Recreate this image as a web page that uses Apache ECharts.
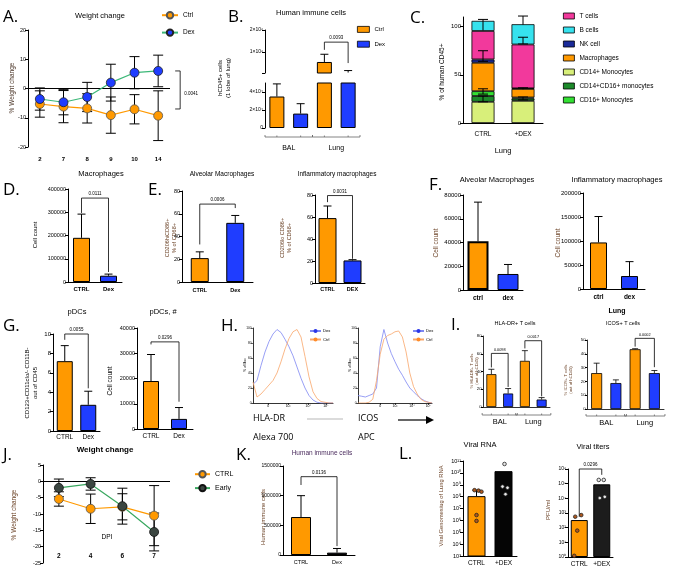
<!DOCTYPE html>
<html><head><meta charset="utf-8">
<script src="https://cdn.jsdelivr.net/npm/echarts@6.0.0/dist/echarts.min.js"></script>
<style>html,body{margin:0;padding:0;background:#fff}#c{width:679px;height:572px}</style>
</head><body><div id="c"></div><script>
// ================= DATA =================
// A. Weight change
const A_days = ['2','7','8','9','10','14'];
const A_ctrl = [-5.3,-6.2,-6.8,-9.1,-7.1,-9.3];
const A_ctrlErr = [4.5,5.5,5.0,6.2,5.0,8.5];
const A_dex = [-3.6,-4.7,-2.9,2.0,5.4,6.0];
const A_dexErr = [3.8,4.3,5.0,6.3,5.5,5.4];
const A_sig = [[5,6.0,-7.0,'0.0041']];
// B. Human immune cells (broken axis at 5×10⁴)
const B_cats = ['BAL Ctrl','BAL Dex','Lung Ctrl','Lung Dex'];
const B_ctrl = [35000,'-',550000,'-'];
const B_ctrlHi = [49000,null,900000,null];
const B_dex = ['-',16000,'-',70000];
const B_dexHi = [null,27000,null,160000];
const B_break = 50000;
const B_groups = [[0,1,'BAL'],[2,3,'Lung']];
const B_sig = [[2,3,1450000,1100000,500000,'0.0093']];
const B_topTicks = [1000000,2000000];
const B_topTickMarks = [50000,1000000,2000000];
const B_topLabels = ['1×10⁶','2×10⁶'];
const B_botTicks = [0,20000,40000];
const B_botLabels = ['0','2×10⁴','4×10⁴'];
// C. % of human CD45+ (stack bottom -> top)
const C_groups = ['CTRL','+DEX'];
const C_cd14 = [22,23];
const C_cd1416 = [6,2.3];
const C_cd16 = [5,1.2];
const C_mac = [29.5,8.9];
const C_nk = [3.5,0.6];
const C_t = [29.5,45.5];
const C_b = [10.5,21];
const C_err = [[0,96,107.5,0],[0,64,75,1],[0,30,35.5,1],[0,22,28,1],[1,102,111,0],[1,82,89,1],[1,35,36.5,0],[1,24,27,1]];
// D. Macrophages
const D_cats = ['CTRL','Dex'];
const D_vals = [190000,27000];
const D_hi = [292000,34000];
const D_sig = [[0,1,361000,297000,43000,'0.0111']];
// E. Alveolar / Inflammatory macrophages (%)
const E1_cats = ['CTRL','Dex'];
const E1_vals = [21,52];
const E1_hi = [26.5,58.5];
const E1_sig = [[0,1,68.5,33,65,'0.0006']];
const E2_cats = ['CTRL','DEX'];
const E2_vals = [59,20.5];
const E2_hi = [70,21.2];
const E2_sig = [[0,1,79.5,73.5,22,'0.0031']];
// F. cell counts
const F1_cats = ['ctrl','dex'];
const F1_vals = [41000,13500];
const F1_hi = [74000,21500];
const F2_cats = ['ctrl','dex'];
const F2_vals = [97000,27000];
const F2_hi = [151000,57000];
// G. pDCs
const G1_cats = ['CTRL','Dex'];
const G1_vals = [7.2,2.7];
const G1_hi = [8.8,4.1];
const G1_sig = [[0,1,10,9.4,4.4,'0.0055']];
const G2_cats = ['CTRL','Dex'];
const G2_vals = [19000,4000];
const G2_hi = [29500,8500];
const G2_sig = [[0,1,34500,33500,10800,'0.0296']];
// H. flow histograms (% of max per channel bin)
const H_bins = [0,5,10,15,20,25,30,35,40,45,50,55,60,65,70,75,80,85,90,95,100];
const H1_dex  = [25,30,50,68,82,92,98,94,85,75,63,48,33,20,10,4,1,0,0,0,0];
const H1_ctrl = [28,8,12,18,24,30,40,55,72,86,95,98,88,62,35,15,6,2,1,0,0];
const H2_dex  = [10,9,8,10,12,20,75,98,80,66,55,45,37,28,20,15,10,6,3,1,0];
const H2_ctrl = [0,0,0,1,5,30,65,85,90,92,95,96,88,68,40,22,12,5,2,1,0];
const H1_tickPos = [19,44,69,91];
const H1_tickLab = ['0','10³','10⁴','10⁵'];
const H2_tickPos = [30,50,73,95];
const H2_tickLab = ['0','10³','10⁴','10⁵'];
// I. T cells
const I_cats = ['BAL Ctrl','BAL Dex','Lung Ctrl','Lung Dex'];
const I_groups = [[0,1,'BAL'],[2,3,'Lung']];
const I1_ctrl = [37,'-',52,'-'];
const I1_ctrlHi = [42.5,null,63.5,null];
const I1_dex = ['-',15.2,'-',8.4];
const I1_dexHi = [null,20.8,null,10.6];
const I1_sig = [[0,1,60.4,44.6,22.6,'0.0098'],[2,3,74.7,66,12,'0.0017']];
const I2_ctrl = [26,'-',43.3,'-'];
const I2_ctrlHi = [33.2,null,43.7,null];
const I2_dex = ['-',18.8,'-',26];
const I2_dexHi = [null,21.1,null,27.9];
const I2_sig = [[2,3,51.2,45.2,30.3,'0.0002']];
// J. Weight change
const J_days = ['2','4','6','7'];
const J_ctrl = [-5.4,-8.4,-7.8,-10.5];
const J_ctrlErr = [2.2,4.5,4.0,9.2];
const J_early = [-2.0,-0.8,-7.6,-15.5];
const J_earlyErr = [2.7,1.9,5.5,5.8];
// K. Human immune cells
const K_cats = ['CTRL','Dex'];
const K_vals = [640000,40000];
const K_hi = [1000000,110000];
const K_sig = [[0,1,1320000,1180000,150000,'0.0136']];
// L. Viral RNA / titers
const L1_cats = ['CTRL','+DEX'];
const L1_vals = [1.1e8,1.4e10];
const L1_hi = [3.5e8,null];
const L1_ctrlPts = [3.5e8,3.2e8,2.6e8,2.8e6,9e5];
const L1_dexPts = [5.6e10,7e8,5.6e8,1.6e8];
const L2_cats = ['CTRL','+DEX'];
const L2_vals = [330,9e4];
const L2_ctrlPts = [560,720,63,1.2];
const L2_dexPts = [1.8e5,1.8e5,1.05e4,1.26e4];
const L2_sig = [[0,1,1e6,550,4e5,'0.0296']];

// ================= STYLE =================
const FONT = '"Liberation Sans", Arial, sans-serif';
const LFONT = '"Open Sans", "Noto Sans", sans-serif';
const OR = '#ff9900', BL = '#1f3dff', BR = '#6b4226';
const C_colors = ['#d8ef7a','#1c8a2a','#33e033','#ff9900','#1a2a99','#f2399c','#36e2ee'];
const C_names = ['CD14+ Monocytes','CD14+CD16+ monocytes','CD16+ Monocytes','Macrophages','NK cell','T cells','B cells'];
const C_series = [C_cd14,C_cd1416,C_cd16,C_mac,C_nk,C_t,C_b];
const L1_ctrlDx = [-2,2,5,0,0], L1_dexDx = [1,-1,4,2];
const L2_ctrlDx = [-4,2,-2,-5], L2_dexDx = [-3,2,-2,3];
const SUP = '⁰¹²³⁴⁵⁶⁷⁸⁹';
const sup = n => String(n).split('').map(d => SUP[+d]).join('');
const nm = n => n.split(':')[1];
const plain = v => String(v);
const isNum = v => typeof v === 'number';

function merge(a, b) {
  for (const k in b) {
    const bv = b[k];
    if (bv && typeof bv === 'object' && !Array.isArray(bv) && a[k] && typeof a[k] === 'object' && !Array.isArray(a[k])) merge(a[k], bv);
    else a[k] = bv;
  }
  return a;
}
const grids = [], xAxes = [], yAxes = [], series = [], legends = [], graphics = [];
function addGrid(l, t, w, h, xa, ya) {
  const gi = grids.length;
  grids.push({left:l, top:t, width:w, height:h});
  xAxes.push(Object.assign({gridIndex:gi}, xa));
  yAxes.push(Object.assign({gridIndex:gi}, ya));
  return gi;
}
function catAxis(cats, o) {
  return merge({type:'category', data:cats,
    axisLine:{show:true, onZero:false, lineStyle:{color:'#000', width:1}},
    axisTick:{show:false},
    axisLabel:{color:'#000', fontSize:6, margin:4, interval:0, fontFamily:FONT}}, o || {});
}
function valAxis(o) {
  return merge({type:'value', splitLine:{show:false},
    axisLine:{show:true, lineStyle:{color:'#000', width:1}},
    axisTick:{show:true, length:3, lineStyle:{color:'#000', width:1}},
    axisLabel:{color:'#000', fontSize:5.5, margin:2, fontFamily:FONT, formatter:plain}}, o || {});
}
function errSeries(gi, data, o) {
  o = o || {};
  const cap = o.cap || 4;
  series.push({type:'custom', xAxisIndex:gi, yAxisIndex:gi, clip:!!o.clip, silent:true, z:5,
    data: data,
    renderItem(params, api) {
      const x = api.value(0), lo = api.value(1), hi = api.value(2);
      const both = o.both || (data[params.dataIndex][3] === 1);
      const p1 = api.coord([x, lo]), p2 = api.coord([x, hi]);
      const cx = p1[0];
      const st = {stroke:'#000', lineWidth:o.lw || 1};
      const ch = [{type:'line', shape:{x1:cx, y1:p1[1], x2:cx, y2:p2[1]}, style:st},
                  {type:'line', shape:{x1:cx-cap, y1:p2[1], x2:cx+cap, y2:p2[1]}, style:st}];
      if (both) ch.push({type:'line', shape:{x1:cx-cap, y1:p1[1], x2:cx+cap, y2:p1[1]}, style:st});
      return {type:'group', children:ch};
    }});
}
function textEl(x, y, text, fs, al, va) {
  return {type:'text', x:x, y:y, style:{text:text, fontSize:fs, fontFamily:FONT, fill:'#000',
    align:al, textAlign:al, verticalAlign:va, textVerticalAlign:va}};
}
function bracketSeries(gi, arr, fs) {
  series.push({type:'custom', xAxisIndex:gi, yAxisIndex:gi, clip:false, silent:true, z:6,
    data: arr.map(a => a.slice(0,5)),
    renderItem(params, api) {
      const c1 = api.value(0), c2 = api.value(1), top = api.value(2);
      const a = api.coord([c1, top]), b = api.coord([c2, top]);
      const pl = api.coord([c1, api.value(3)]), pr = api.coord([c2, api.value(4)]);
      return {type:'group', children:[
        {type:'polyline', shape:{points:[pl, a, b, pr]}, style:{stroke:'#000', lineWidth:0.8, fill:null}},
        textEl((a[0]+b[0])/2, a[1]-1.5, arr[params.dataIndex][5], fs || 4.5, 'center', 'bottom')
      ]};
    }});
}
function groupSeries(gi, groups, ymin, dy, ly, fs, ext) {
  series.push({type:'custom', xAxisIndex:gi, yAxisIndex:gi, clip:false, silent:true,
    data: groups.map(g => [g[0], g[1], ymin]),
    renderItem(params, api) {
      const bw = api.size([1, 0])[0];
      const p1 = api.coord([api.value(0), api.value(2)]), p2 = api.coord([api.value(1), api.value(2)]);
      const y = p1[1] + dy, xl = p1[0] - bw*ext, xr = p2[0] + bw*ext;
      const st = {stroke:'#666', lineWidth:0.8};
      return {type:'group', children:[
        {type:'line', shape:{x1:xl, y1:y, x2:xr, y2:y}, style:st},
        {type:'line', shape:{x1:xl, y1:y, x2:xl, y2:y-2}, style:st},
        {type:'line', shape:{x1:xr, y1:y, x2:xr, y2:y-2}, style:st},
        {type:'line', shape:{x1:p1[0], y1:y, x2:p1[0], y2:y-1.5}, style:st},
        {type:'line', shape:{x1:p2[0], y1:y, x2:p2[0], y2:y-1.5}, style:st},
        textEl((xl+xr)/2, y+ly, groups[params.dataIndex][2], fs, 'center', 'middle')
      ]};
    }});
}
function pointSeries(gi, x, pts, dx, fill, r) {
  series.push({type:'custom', xAxisIndex:gi, yAxisIndex:gi, clip:false, silent:true, z:7,
    data: pts.map(v => [x, v]),
    renderItem(params, api) {
      const p = api.coord([api.value(0), api.value(1)]);
      return {type:'circle', shape:{cx:p[0] + dx[params.dataIndex], cy:p[1], r:r},
        style:{fill:fill, stroke:'#222', lineWidth:0.8}};
    }});
}
function barPanel(l, t, w, h, cats, vals, colors, hi, o) {
  const gi = addGrid(l, t, w, h, catAxis(cats, o.x), valAxis(o.y));
  series.push({type:'bar', xAxisIndex:gi, yAxisIndex:gi, barWidth:o.bw, z:2,
    data: vals.map((v, i) => ({value:v, itemStyle:{color:colors[i], borderColor:'#000', borderWidth:(o.bws ? o.bws[i] : 1)}}))});
  const ed = [];
  vals.forEach((v, i) => { if (hi[i] != null) ed.push([i, v, hi[i]]); });
  errSeries(gi, ed, {cap:o.cap || 4});
  if (o.sig) bracketSeries(gi, o.sig, o.sfs);
  return gi;
}
function T(x, y, text, fs, o) {
  o = o || {};
  const al = o.al || 'center';
  graphics.push({type:'text', x:x, y:y, rotation:o.rot || 0, silent:true,
    style:{text:text, fontSize:fs, fontFamily:o.ff || FONT, fontWeight:o.fw || 'normal', fill:o.c || '#000',
      align:al, textAlign:al, verticalAlign:'middle', textVerticalAlign:'middle'}});
}
const R = Math.PI / 2;

// ================= A =================
const gA = addGrid(28, 30, 142, 117,
  catAxis(A_days, {axisLine:{show:false}, axisLabel:{fontSize:6, fontWeight:'bold', margin:9}}),
  valAxis({min:-20, max:20, interval:10}));
errSeries(gA, A_ctrl.map((v, i) => [i, v - A_ctrlErr[i], v + A_ctrlErr[i]]), {cap:5, both:true});
errSeries(gA, A_dex.map((v, i) => [i, v - A_dexErr[i], v + A_dexErr[i]]), {cap:5, both:true});
series.push({type:'line', name:'A:Ctrl', xAxisIndex:gA, yAxisIndex:gA, data:A_ctrl, symbol:'circle', symbolSize:9, z:8,
  itemStyle:{color:OR, borderColor:'#555', borderWidth:0.8}, lineStyle:{color:OR, width:1.2},
  markLine:{silent:true, symbol:'none', label:{show:false}, lineStyle:{color:'#000', width:1, type:'solid'}, data:[{yAxis:0}]}});
series.push({type:'line', name:'A:Dex', xAxisIndex:gA, yAxisIndex:gA, data:A_dex, symbol:'circle', symbolSize:9, z:8,
  itemStyle:{color:BL, borderColor:'#222', borderWidth:0.8}, lineStyle:{color:'#3cb878', width:1.2}});
series.push({type:'custom', xAxisIndex:gA, yAxisIndex:gA, clip:false, silent:true, z:6,
  data: A_sig.map(s => s.slice(0,3)),
  renderItem(params, api) {
    const c = api.value(0), t = api.coord([c, api.value(1)]), b = api.coord([c, api.value(2)]);
    const x = t[0] + 22;
    return {type:'group', children:[
      {type:'polyline', shape:{points:[[x-5, t[1]], [x, t[1]], [x, b[1]], [x-5, b[1]]]}, style:{stroke:'#000', lineWidth:0.8, fill:null}},
      textEl(x + 4, (t[1] + b[1]) / 2 + 4, A_sig[params.dataIndex][3], 4.5, 'left', 'middle')
    ]};
  }});
legends.push({left:161, top:11, orient:'vertical', itemWidth:16, itemHeight:8, itemGap:9, data:['A:Ctrl','A:Dex'], formatter:nm,
  textStyle:{fontSize:6.5, color:'#000', fontFamily:FONT}, selectedMode:false, padding:0});

// ================= B =================
const bHidden = {show:true, axisLine:{show:false}, axisLabel:{show:false}, axisTick:{show:false}};
const gBt = addGrid(265, 30, 95, 43, catAxis(B_cats, bHidden),
  valAxis({min:B_break, max:2000000, axisLabel:{fontSize:5, customValues:B_topTicks, formatter:v => B_topLabels[B_topTicks.indexOf(v)]}, axisTick:{customValues:B_topTickMarks}}));
const gBb = addGrid(265, 83, 95, 45, catAxis(B_cats, bHidden),
  valAxis({min:0, max:B_break, axisLabel:{fontSize:5, customValues:B_botTicks, formatter:v => B_botLabels[B_botTicks.indexOf(v)]}, axisTick:{customValues:B_botTicks}}));
// top segment only shows values above the break
const aboveBreak = arr => arr.map(v => (isNum(v) && v > B_break) ? v : '-');
[[gBt, aboveBreak(B_ctrl), aboveBreak(B_dex), 'Bt'], [gBb, B_ctrl, B_dex, 'B']].forEach(cfg => {
  const g = cfg[0];
  series.push({type:'bar', name:cfg[3] + ':Ctrl', xAxisIndex:g, yAxisIndex:g, data:cfg[1], barWidth:15, barGap:'-100%', z:2,
    itemStyle:{color:OR, borderColor:'#000', borderWidth:1}});
  series.push({type:'bar', name:cfg[3] + ':Dex', xAxisIndex:g, yAxisIndex:g, data:cfg[2], barWidth:15, barGap:'-100%', z:2,
    itemStyle:{color:BL, borderColor:'#000', borderWidth:1}});
  const ed = [];
  cfg[1].forEach((v, i) => { if (isNum(v)) ed.push([i, v, B_ctrlHi[i]]); });
  cfg[2].forEach((v, i) => { if (isNum(v)) ed.push([i, v, B_dexHi[i]]); });
  errSeries(g, ed, {cap:4, clip:true});
});
bracketSeries(gBt, B_sig, 4.5);
groupSeries(gBb, B_groups, 0, 9, 11, 7, 0.5);
legends.push({left:357, top:26, orient:'vertical', itemWidth:12, itemHeight:6, itemGap:8, data:['B:Ctrl','B:Dex'], formatter:nm, icon:'rect',
  itemStyle:{borderColor:'#000', borderWidth:0.8}, textStyle:{fontSize:6, color:'#000', fontFamily:FONT}, selectedMode:false, padding:0});

// ================= C =================
const gC = addGrid(463, 17, 80, 106, catAxis(C_groups, {axisLabel:{fontSize:6.5, margin:8}}),
  valAxis({min:0, max:110, interval:50, axisLabel:{fontSize:6, showMaxLabel:false}}));
C_series.forEach((arr, k) => {
  series.push({type:'bar', name:'C:' + C_names[k], stack:'c', xAxisIndex:gC, yAxisIndex:gC, data:arr, barWidth:23, z:2,
    itemStyle:{color:C_colors[k], borderColor:'#000', borderWidth:0.8}});
});
errSeries(gC, C_err, {cap:5});
legends.push({left:563, top:12, orient:'vertical', itemWidth:11, itemHeight:6, itemGap:6, icon:'rect',
  data:['C:T cells','C:B cells','C:NK cell','C:Macrophages','C:CD14+ Monocytes','C:CD14+CD16+ monocytes','C:CD16+ Monocytes'],
  formatter:nm, itemStyle:{borderColor:'#000', borderWidth:0.8}, textStyle:{fontSize:6.5, lineHeight:8, color:'#000', fontFamily:FONT}, selectedMode:false, padding:0});

// ================= D, E, F, G, K =================
barPanel(68, 189, 54, 93, D_cats, D_vals, [OR, BL], D_hi, {bw:17, sig:D_sig, x:{axisLabel:{fontWeight:'bold', fontSize:6, margin:4}}, y:{min:0, max:400000, interval:100000}});
barPanel(182, 191, 71, 91, E1_cats, E1_vals, [OR, BL], E1_hi, {bw:18, sig:E1_sig, x:{axisLabel:{fontWeight:'bold', fontSize:5.5, margin:5}}, y:{min:0, max:80, interval:20}});
barPanel(315, 195, 50, 88, E2_cats, E2_vals, [OR, BL], E2_hi, {bw:18, sig:E2_sig, x:{axisLabel:{fontWeight:'bold', fontSize:5.5, margin:3}}, y:{min:0, max:80, interval:20}});
barPanel(463, 195, 60, 95, F1_cats, F1_vals, [OR, BL], F1_hi, {bw:21, bws:[2,1], cap:4, x:{axisLabel:{fontWeight:'bold', fontSize:6.5, margin:5}}, y:{min:0, max:80000, interval:20000, axisLabel:{fontSize:6}}});
barPanel(583, 193, 62, 96, F2_cats, F2_vals, [OR, BL], F2_hi, {bw:17, cap:4, x:{axisLabel:{fontWeight:'bold', fontSize:6.5, margin:5}}, y:{min:0, max:200000, interval:50000, axisLabel:{fontSize:6}}});
barPanel(53, 334, 47, 97, G1_cats, G1_vals, [OR, BL], G1_hi, {bw:16, sig:G1_sig, x:{axisLabel:{fontSize:6.5, margin:3}}, y:{min:0, max:10, interval:2, axisLabel:{fontSize:6}}});
barPanel(137, 328, 56, 101, G2_cats, G2_vals, [OR, BL], G2_hi, {bw:16, sig:G2_sig, x:{axisLabel:{fontSize:6.5, margin:4}}, y:{min:0, max:40000, interval:10000, axisLabel:{fontSize:5.5}}});
barPanel(283, 466, 72, 89, K_cats, K_vals, [OR, '#0d0d18'], K_hi, {bw:20, sig:K_sig, x:{axisLabel:{fontSize:5.5, margin:4}}, y:{min:0, max:1500000, interval:500000, axisLabel:{fontSize:5}}});

// ================= H =================
function histPanel(l, w, d, c, tp, tl, lname) {
  const g = addGrid(l, 328, w, 75,
    {type:'value', min:0, max:100, splitLine:{show:false},
     axisLine:{show:true, onZero:false, lineStyle:{color:'#000', width:0.8}},
     axisTick:{show:true, length:2, customValues:tp, lineStyle:{color:'#000', width:0.6}},
     axisLabel:{fontSize:3.5, color:'#000', margin:1.5, customValues:tp, formatter:v => tl[tp.indexOf(v)]}},
    valAxis({min:0, max:100, interval:20, axisLabel:{fontSize:3.2, margin:1.5}, axisTick:{length:2, lineStyle:{width:0.6}}, axisLine:{lineStyle:{width:0.8}}}));
  series.push({type:'line', name:lname + ':Dex', xAxisIndex:g, yAxisIndex:g, data:H_bins.map((b, i) => [b, d[i]]), symbol:'circle', symbolSize:5, showSymbol:false,
    itemStyle:{color:'#2a36e8'}, lineStyle:{color:'#7d87f2', width:0.8}});
  series.push({type:'line', name:lname + ':Ctrl', xAxisIndex:g, yAxisIndex:g, data:H_bins.map((b, i) => [b, c[i]]), symbol:'circle', symbolSize:5, showSymbol:false,
    itemStyle:{color:'#ff8c2a'}, lineStyle:{color:'#f9a66a', width:0.8}});
  return g;
}
histPanel(253, 80, H1_dex, H1_ctrl, H1_tickPos, H1_tickLab, 'H1');
histPanel(358, 74, H2_dex, H2_ctrl, H2_tickPos, H2_tickLab, 'H2');
legends.push({left:309, top:329, orient:'vertical', itemWidth:11, itemHeight:5, itemGap:4.5, data:['H1:Dex','H1:Ctrl'], formatter:nm,
  textStyle:{fontSize:4.2, color:'#000', fontFamily:FONT, padding:[0,0,0,-3]}, selectedMode:false, padding:0});
legends.push({left:412, top:329, orient:'vertical', itemWidth:11, itemHeight:5, itemGap:4.5, data:['H2:Dex','H2:Ctrl'], formatter:nm,
  textStyle:{fontSize:4.2, color:'#000', fontFamily:FONT, padding:[0,0,0,-3]}, selectedMode:false, padding:0});

// ================= I =================
function tPanel(l, t, w, h, max, itv, ctrl, ctrlHi, dex, dexHi, sig, bw, gdy) {
  const g = addGrid(l, t, w, h, catAxis(I_cats, {axisLabel:{show:false}, axisLine:{lineStyle:{width:0.8}}}),
    valAxis({min:0, max:max, interval:itv, axisLabel:{fontSize:4.2, margin:1.5}, axisTick:{length:2}, axisLine:{lineStyle:{width:0.8}}}));
  series.push({type:'bar', xAxisIndex:g, yAxisIndex:g, data:ctrl, barWidth:bw, barGap:'-100%', z:2, itemStyle:{color:OR, borderColor:'#000', borderWidth:0.8}});
  series.push({type:'bar', xAxisIndex:g, yAxisIndex:g, data:dex, barWidth:bw, barGap:'-100%', z:2, itemStyle:{color:BL, borderColor:'#000', borderWidth:0.8}});
  const ed = [];
  ctrl.forEach((v, i) => { if (isNum(v)) ed.push([i, v, ctrlHi[i]]); });
  dex.forEach((v, i) => { if (isNum(v)) ed.push([i, v, dexHi[i]]); });
  errSeries(g, ed, {cap:3, lw:0.8});
  bracketSeries(g, sig, 3.8);
  groupSeries(g, I_groups, 0, gdy, 7, 7.5, 0.55);
  return g;
}
tPanel(483, 336, 67, 71, 80, 20, I1_ctrl, I1_ctrlHi, I1_dex, I1_dexHi, I1_sig, 10, 8);
tPanel(587, 340, 77, 69, 50, 10, I2_ctrl, I2_ctrlHi, I2_dex, I2_dexHi, I2_sig, 11, 7);

// ================= J =================
const gJ = addGrid(43, 465, 127, 98,
  catAxis(J_days, {axisLine:{show:false}, axisLabel:{fontSize:6.5, fontWeight:'bold', margin:-10}}),
  valAxis({min:-25, max:5, interval:5, axisLabel:{fontSize:5.5}}));
errSeries(gJ, J_ctrl.map((v, i) => [i, v - J_ctrlErr[i], v + J_ctrlErr[i]]), {cap:5, both:true});
errSeries(gJ, J_early.map((v, i) => [i, v - J_earlyErr[i], v + J_earlyErr[i]]), {cap:5, both:true});
series.push({type:'line', name:'J:CTRL', xAxisIndex:gJ, yAxisIndex:gJ, data:J_ctrl, symbol:'circle', symbolSize:9, z:8,
  itemStyle:{color:OR, borderColor:'#555', borderWidth:0.8}, lineStyle:{color:OR, width:1.2},
  markLine:{silent:true, symbol:'none', label:{show:false}, lineStyle:{color:'#000', width:1, type:'solid'}, data:[{yAxis:0}]}});
series.push({type:'line', name:'J:Early', xAxisIndex:gJ, yAxisIndex:gJ, data:J_early, symbol:'circle', symbolSize:9, z:8,
  itemStyle:{color:'#3b4641', borderColor:'#111', borderWidth:0.8}, lineStyle:{color:'#3aa860', width:1.2}});
legends.push({left:194, top:470, orient:'vertical', itemWidth:15, itemHeight:8, itemGap:5.5, data:['J:CTRL','J:Early'], formatter:nm,
  textStyle:{fontSize:7, color:'#000', fontFamily:FONT}, selectedMode:false, padding:0});

// ================= L =================
const logFmt = v => '10' + sup(Math.round(Math.log10(v)));
const gL1 = addGrid(463, 461, 54, 95, catAxis(L1_cats, {axisLabel:{fontSize:6.5, margin:4}}),
  valAxis({type:'log', logBase:10, min:1e3, max:1e11, splitNumber:8, axisLabel:{fontSize:5.5, formatter:logFmt}}));
series.push({type:'bar', xAxisIndex:gL1, yAxisIndex:gL1, barWidth:18, z:2,
  data:L1_vals.map((v, i) => ({value:v, itemStyle:{color:[OR, '#050505'][i], borderColor:'#000', borderWidth:1}}))});
errSeries(gL1, L1_vals.map((v, i) => [i, v, L1_hi[i]]).filter(e => e[2] != null), {cap:4});
pointSeries(gL1, 0, L1_ctrlPts, L1_ctrlDx, '#b0581c', 1.8);
pointSeries(gL1, 1, L1_dexPts, L1_dexDx, '#e8e8e8', 1.8);
const gL2 = addGrid(568, 469, 45, 88, catAxis(L2_cats, {axisLabel:{fontSize:6.5, margin:4}}),
  valAxis({type:'log', logBase:10, min:1, max:1e6, splitNumber:6, axisLabel:{fontSize:5, formatter:logFmt}}));
series.push({type:'bar', xAxisIndex:gL2, yAxisIndex:gL2, barWidth:17, z:2,
  data:L2_vals.map((v, i) => ({value:v, itemStyle:{color:[OR, '#1c1c1c'][i], borderColor:'#000', borderWidth:1}}))});
pointSeries(gL2, 0, L2_ctrlPts, L2_ctrlDx, '#b0581c', 1.8);
pointSeries(gL2, 1, L2_dexPts, L2_dexDx, '#e8e8e8', 1.8);
bracketSeries(gL2, L2_sig, 4.5);

// ================= TEXT =================
const PL = {ff:LFONT, al:'left'};
T(3, 17, 'A.', 17, PL); T(228, 17, 'B.', 17, PL); T(410, 18, 'C.', 17, PL);
T(3, 190, 'D.', 17, PL); T(148, 190, 'E.', 17, PL); T(429, 185, 'F.', 17, PL);
T(3, 326, 'G.', 17, PL); T(221, 326, 'H.', 17, PL); T(451, 325, 'I.', 17, PL);
T(3, 455, 'J.', 17, PL); T(236, 455, 'K.', 17, PL); T(399, 454, 'L.', 17, PL);
T(100, 16, 'Weight change', 7.5);
T(311, 13, 'Human immune cells', 7.5);
T(503, 151, 'Lung', 7.5);
T(101, 174, 'Macrophages', 7.5);
T(222, 174, 'Alveolar Macrophages', 6.5);
T(337, 174, 'Inflammatory macrophages', 6.5);
T(497, 180, 'Alveolar Macrophages', 7.5);
T(617, 180, 'Inflammatory macrophages', 7.5);
T(617, 311, 'Lung', 7, {fw:'bold'});
T(77, 312, 'pDCs', 7.5);
T(163, 312, 'pDCs, #', 7.5);
T(105, 450, 'Weight change', 8, {fw:'bold'});
T(107, 537, 'DPI', 6.5);
T(253, 418, 'HLA-DR', 9, {ff:LFONT, al:'left'});
T(253, 437, 'Alexa 700', 9, {ff:LFONT, al:'left'});
T(358, 418, 'ICOS', 9, {ff:LFONT, al:'left'});
T(358, 437, 'APC', 9, {ff:LFONT, al:'left'});
T(515, 323, 'HLA-DR+ T cells', 5.5);
T(623, 323, 'ICOS+ T cells', 5.5);
T(322, 453, 'Human immune cells', 6.5, {c:'#4b2c5e'});
T(480, 445, 'Viral RNA', 7.5);
T(593, 447, 'Viral titers', 7.5);
// axis titles
T(12, 88, '% Weight change', 6.5, {rot:R, c:'#4a3426'});
T(220, 78, 'hCD45+ cells', 6, {rot:R});
T(228, 78, '(1 lobe of lung)', 6, {rot:R});
T(442, 72, '% of human CD45+', 6.5, {rot:R});
T(35, 235, 'Cell count', 6, {rot:R});
T(167, 238, 'CD206hiCD86+', 5.5, {rot:R, c:BR});
T(174, 238, '% of CD68+', 5.5, {rot:R, c:BR});
T(282, 238, 'CD206lo CD86+', 5.5, {rot:R, c:BR});
T(289, 238, '% of CD68+', 5.5, {rot:R, c:BR});
T(436, 243, 'Cell count', 6.5, {rot:R, c:BR});
T(558, 243, 'Cell count', 6.5, {rot:R, c:BR});
T(27, 383, 'CD123+CD11clo/- CD11B-', 6, {rot:R});
T(35, 383, 'out of CD45', 6, {rot:R});
T(110, 381, 'Cell count', 6.5, {rot:R});
T(245, 365, '% of Max', 3.2, {rot:R});
T(350, 365, '% of Max', 3.2, {rot:R});
T(472, 371, '% HLADR+ T cells', 4.2, {rot:R, c:BR});
T(477, 371, '(out of hCD45)', 4.2, {rot:R, c:BR});
T(566, 380, '% ICOS+ T cells', 4.2, {rot:R, c:BR});
T(571, 380, '(out of hCD45)', 4.2, {rot:R, c:BR});
T(14, 515, '% Weight change', 6.5, {rot:R, c:BR});
T(263, 517, 'Human immune cells', 6, {rot:R, c:BR});
T(441, 506, 'Viral Genomes/ug of Lung RNA', 5.8, {rot:R, c:BR});
T(548, 510, 'PFU/ml', 6, {rot:R, c:BR});
// decorative line and arrow in H
graphics.push({type:'line', silent:true, shape:{x1:307, y1:419, x2:343, y2:419}, style:{stroke:'#cfcfcf', lineWidth:1.5}});
graphics.push({type:'line', silent:true, shape:{x1:398, y1:420, x2:427, y2:420}, style:{stroke:'#000', lineWidth:1.2}});
graphics.push({type:'polygon', silent:true, shape:{points:[[426,416],[434,420],[426,424]]}, style:{fill:'#000'}});

const chart = echarts.init(document.getElementById('c'), null, {renderer:'canvas', width:679, height:572});
chart.setOption({
  animation:false,
  backgroundColor:'#fff',
  textStyle:{fontFamily:FONT},
  grid:grids, xAxis:xAxes, yAxis:yAxes, series:series, legend:legends,
  graphic:{elements:graphics}
});
</script></body></html>
